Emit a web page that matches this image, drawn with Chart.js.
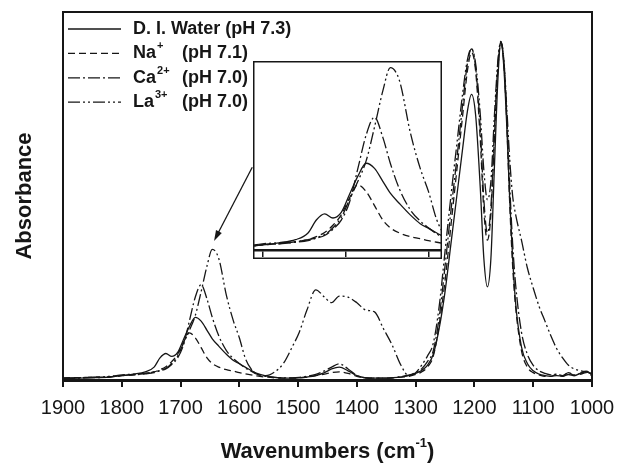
<!DOCTYPE html>
<html>
<head>
<meta charset="utf-8">
<script src="https://cdn.jsdelivr.net/npm/chart.js@4.4.0/dist/chart.umd.min.js"></script>
<style>
  body { margin: 0; background: #fff; }
  #wrap { position: relative; width: 629px; height: 465px; }
  #main { position: absolute; left: 0; top: 0; }
  #inset { position: absolute; left: 253px; top: 61px; }
</style>
</head>
<body>
<div id="wrap">
  <canvas id="main" width="629" height="465"></canvas>
  <canvas id="inset" width="189" height="198"></canvas>
</div>
<script>
// wavenumber grid (cm-1)
var wavenumbers = [
  1900, 1860, 1820, 1800, 1780, 1760, 1745, 1735, 1725, 1715,
  1705, 1695, 1685, 1675, 1665, 1655, 1646, 1635, 1622, 1610,
  1600, 1590, 1580, 1570, 1555, 1540, 1525, 1510, 1498, 1485,
  1470, 1455, 1443, 1430, 1415, 1400, 1385, 1370, 1355, 1340,
  1325, 1312, 1300, 1290, 1280, 1270, 1260, 1250, 1240, 1230,
  1220, 1212, 1205, 1198, 1190, 1184, 1178, 1172, 1166, 1160,
  1155, 1150, 1145, 1140, 1135, 1130, 1120, 1110, 1100, 1090,
  1080, 1070, 1060, 1050, 1040, 1030, 1020, 1010, 1000
];

var water = [
  .004, .006, .008, .012, .016, .022, .035, .060, .072, .064,
  .075, .110, .145, .170, .160, .135, .112, .092, .070, .053,
  .044, .035, .026, .018, .011, .007, .005, .005, .006, .008,
  .012, .020, .030, .035, .025, .012, .006, .005, .005, .006,
  .008, .012, .018, .026, .040, .070, .140, .240, .370, .500,
  .630, .730, .776, .720, .520, .330, .253, .330, .580, .820,
  .920, .850, .690, .490, .330, .210, .090, .045, .025, .016,
  .012, .010, .012, .010, .015, .012, .018, .022, .015
];

var sodium = [
  .006, .007, .009, .012, .014, .018, .022, .028, .036, .050,
  .070, .103, .128, .115, .088, .060, .045, .035, .028, .024,
  .020, .017, .014, .011, .008, .006, .005, .005, .006, .008,
  .012, .016, .020, .022, .018, .010, .006, .005, .005, .006,
  .008, .010, .015, .022, .035, .065, .150, .270, .420, .570,
  .720, .840, .890, .840, .650, .460, .380, .450, .660, .850,
  .915, .860, .700, .480, .310, .200, .080, .035, .020, .014,
  .010, .010, .015, .010, .020, .012, .015, .020, .012
];

var calcium = [
  .004, .006, .008, .012, .014, .017, .020, .025, .030, .042,
  .060, .095, .160, .225, .259, .220, .170, .120, .080, .058,
  .045, .033, .024, .016, .010, .007, .006, .006, .007, .010,
  .015, .025, .035, .044, .030, .012, .006, .005, .005, .006,
  .009, .013, .020, .030, .050, .080, .170, .310, .460, .600,
  .750, .860, .900, .850, .680, .490, .400, .470, .680, .860,
  .918, .870, .720, .530, .370, .260, .130, .070, .040, .025,
  .018, .014, .016, .012, .020, .014, .018, .024, .015
];

var lanthanum = [
  .005, .007, .010, .014, .016, .018, .022, .026, .032, .045,
  .065, .100, .135, .175, .240, .310, .355, .330, .230, .160,
  .115, .060, .030, .016, .012, .022, .045, .090, .130, .190,
  .245, .225, .210, .228, .225, .210, .190, .185, .140, .095,
  .040, .012, .020, .040, .065, .100, .200, .350, .500, .640,
  .780, .870, .900, .860, .720, .570, .490, .540, .720, .870,
  .920, .870, .740, .600, .500, .450, .380, .305, .250, .200,
  .160, .120, .085, .060, .040, .030, .025, .022, .018
];

var seriesNames = ['D. I. Water', 'Na', 'Ca', 'La'];
var seriesCharges = ['', '+', '2+', '3+'];
var seriesPH = ['(pH 7.3)', '(pH 7.1)', '(pH 7.0)', '(pH 7.0)'];
var seriesDash = [[], [7, 4], [12, 3, 2, 3], [12, 3, 2, 3, 2, 3]];
var mainTicks = [1900, 1800, 1700, 1600, 1500, 1400, 1300, 1200, 1100, 1000];
var insetTicks = [1800, 1700, 1600];
// arrow from inset to the La peak, in (wavenumber, absorbance)
var arrowFrom = [1578, 0.578];
var arrowTo = [1643, 0.378];

var FONT = '"Liberation Sans", Arial, sans-serif';
var INK = '#161616';
var allSeries = [water, sodium, calcium, lanthanum];

function toPoints(vals) {
  return wavenumbers.map(function(w, i) { return { x: w, y: vals[i] }; });
}

function makeDatasets(width) {
  return allSeries.map(function(vals, i) {
    return {
      label: seriesNames[i],
      data: toPoints(vals),
      borderColor: INK,
      borderWidth: width,
      borderDash: seriesDash[i],
      pointRadius: 0,
      fill: false,
      cubicInterpolationMode: 'monotone'
    };
  });
}

var framePlugin = {
  id: 'frame',
  afterDraw: function(chart) {
    var ctx = chart.ctx, a = chart.chartArea;
    ctx.save();
    ctx.strokeStyle = INK;
    ctx.lineWidth = 2;
    ctx.beginPath();
    ctx.moveTo(a.left - 1, a.top);
    ctx.lineTo(a.right, a.top);
    ctx.lineTo(a.right, a.bottom);
    ctx.stroke();
    ctx.restore();
  }
};

var legendPlugin = {
  id: 'legendBox',
  afterDraw: function(chart) {
    var ctx = chart.ctx;
    ctx.save();
    ctx.textBaseline = 'middle';
    for (var i = 0; i < seriesNames.length; i++) {
      var y = 29 + i * 24.4;
      ctx.strokeStyle = INK;
      ctx.lineWidth = 1.3;
      ctx.setLineDash(seriesDash[i]);
      ctx.beginPath();
      ctx.moveTo(68, y);
      ctx.lineTo(121, y);
      ctx.stroke();
      ctx.setLineDash([]);
      ctx.fillStyle = INK;
      ctx.font = 'bold 18px ' + FONT;
      ctx.fillText(seriesNames[i], 133, y);
      var w = ctx.measureText(seriesNames[i]).width;
      if (seriesCharges[i]) {
        ctx.font = 'bold 11px ' + FONT;
        ctx.fillText(seriesCharges[i], 133 + w + 1, y - 7);
        ctx.font = 'bold 18px ' + FONT;
        ctx.fillText(seriesPH[i], 182, y);
      } else {
        ctx.fillText(seriesPH[i], 133 + w + 5, y);
      }
    }
    ctx.restore();
  }
};

var xTitlePlugin = {
  id: 'xTitle',
  afterDraw: function(chart) {
    var ctx = chart.ctx, a = chart.chartArea;
    ctx.save();
    ctx.fillStyle = INK;
    ctx.textBaseline = 'middle';
    var big = 'bold 22px ' + FONT, small = 'bold 13px ' + FONT;
    var p1 = 'Wavenumbers (cm', p2 = '-1', p3 = ')';
    ctx.font = big;
    var w1 = ctx.measureText(p1).width, w3 = ctx.measureText(p3).width;
    ctx.font = small;
    var w2 = ctx.measureText(p2).width;
    var x = (a.left + a.right) / 2 - (w1 + w2 + w3) / 2;
    var y = 452;
    ctx.font = big;
    ctx.fillText(p1, x, y);
    ctx.font = small;
    ctx.fillText(p2, x + w1, y - 9);
    ctx.font = big;
    ctx.fillText(p3, x + w1 + w2, y);
    ctx.restore();
  }
};

var arrowPlugin = {
  id: 'arrow',
  afterDraw: function(chart) {
    var ctx = chart.ctx, xs = chart.scales.x, ys = chart.scales.y;
    var x1 = xs.getPixelForValue(arrowFrom[0]), y1 = ys.getPixelForValue(arrowFrom[1]);
    var x2 = xs.getPixelForValue(arrowTo[0]), y2 = ys.getPixelForValue(arrowTo[1]);
    var ang = Math.atan2(y2 - y1, x2 - x1);
    ctx.save();
    ctx.strokeStyle = INK;
    ctx.fillStyle = INK;
    ctx.lineWidth = 1.3;
    ctx.beginPath();
    ctx.moveTo(x1, y1);
    ctx.lineTo(x2 - 8 * Math.cos(ang), y2 - 8 * Math.sin(ang));
    ctx.stroke();
    ctx.beginPath();
    ctx.moveTo(x2, y2);
    ctx.lineTo(x2 - 11 * Math.cos(ang - 0.3), y2 - 11 * Math.sin(ang - 0.3));
    ctx.lineTo(x2 - 11 * Math.cos(ang + 0.3), y2 - 11 * Math.sin(ang + 0.3));
    ctx.closePath();
    ctx.fill();
    ctx.restore();
  }
};

new Chart(document.getElementById('main'), {
  type: 'line',
  data: { datasets: makeDatasets(1.3) },
  options: {
    responsive: false,
    animation: false,
    layout: { padding: { top: 12, right: 37, left: 0, bottom: 0 } },
    plugins: { legend: { display: false }, tooltip: { enabled: false } },
    scales: {
      x: {
        type: 'linear',
        reverse: true,
        min: 1000,
        max: 1900,
        afterBuildTicks: function(s) { s.ticks = mainTicks.map(function(v) { return { value: v }; }); },
        afterFit: function(s) { s.height = 85; },
        ticks: {
          font: { size: 20, family: FONT }, color: INK, padding: 9, maxRotation: 0, autoSkip: false,
          callback: function(v) { return String(v); }
        },
        grid: { drawOnChartArea: false, drawTicks: true, tickLength: 7, lineWidth: 2, color: INK },
        border: { display: true, width: 3, color: INK }
      },
      y: {
        min: 0,
        max: 1,
        afterFit: function(s) { s.width = 63; },
        ticks: { display: false },
        grid: { drawOnChartArea: false, drawTicks: false },
        border: { display: true, width: 2, color: INK },
        title: { display: true, text: 'Absorbance', color: INK, font: { size: 22, weight: 'bold', family: FONT }, padding: { top: 12, bottom: 0 } }
      }
    }
  },
  plugins: [framePlugin, legendPlugin, xTitlePlugin, arrowPlugin]
});

var insetBox = {
  id: 'insetBox',
  beforeDraw: function(chart) {
    var ctx = chart.ctx;
    ctx.save();
    ctx.fillStyle = '#fff';
    ctx.fillRect(0, 0, chart.width, chart.height);
    ctx.restore();
  },
  afterDraw: function(chart) {
    var ctx = chart.ctx;
    ctx.save();
    ctx.strokeStyle = INK;
    ctx.lineWidth = 1.5;
    ctx.strokeRect(0.75, 0.75, chart.width - 1.5, chart.height - 1.5);
    ctx.restore();
  }
};

new Chart(document.getElementById('inset'), {
  type: 'line',
  data: { datasets: makeDatasets(1.3) },
  options: {
    responsive: false,
    animation: false,
    layout: { padding: { top: 1, right: 1, left: 1, bottom: 0 } },
    plugins: { legend: { display: false }, tooltip: { enabled: false } },
    scales: {
      x: {
        type: 'linear',
        reverse: true,
        min: 1585,
        max: 1810,
        afterBuildTicks: function(s) { s.ticks = insetTicks.map(function(v) { return { value: v }; }); },
        afterFit: function(s) { s.height = 9; },
        ticks: { display: false },
        grid: { drawOnChartArea: false, drawTicks: true, tickLength: 7, lineWidth: 1.5, color: INK },
        border: { display: true, width: 2.5, color: INK }
      },
      y: { display: false, min: 0.002, max: 0.366 }
    }
  },
  plugins: [insetBox]
});
</script>
</body>
</html>
